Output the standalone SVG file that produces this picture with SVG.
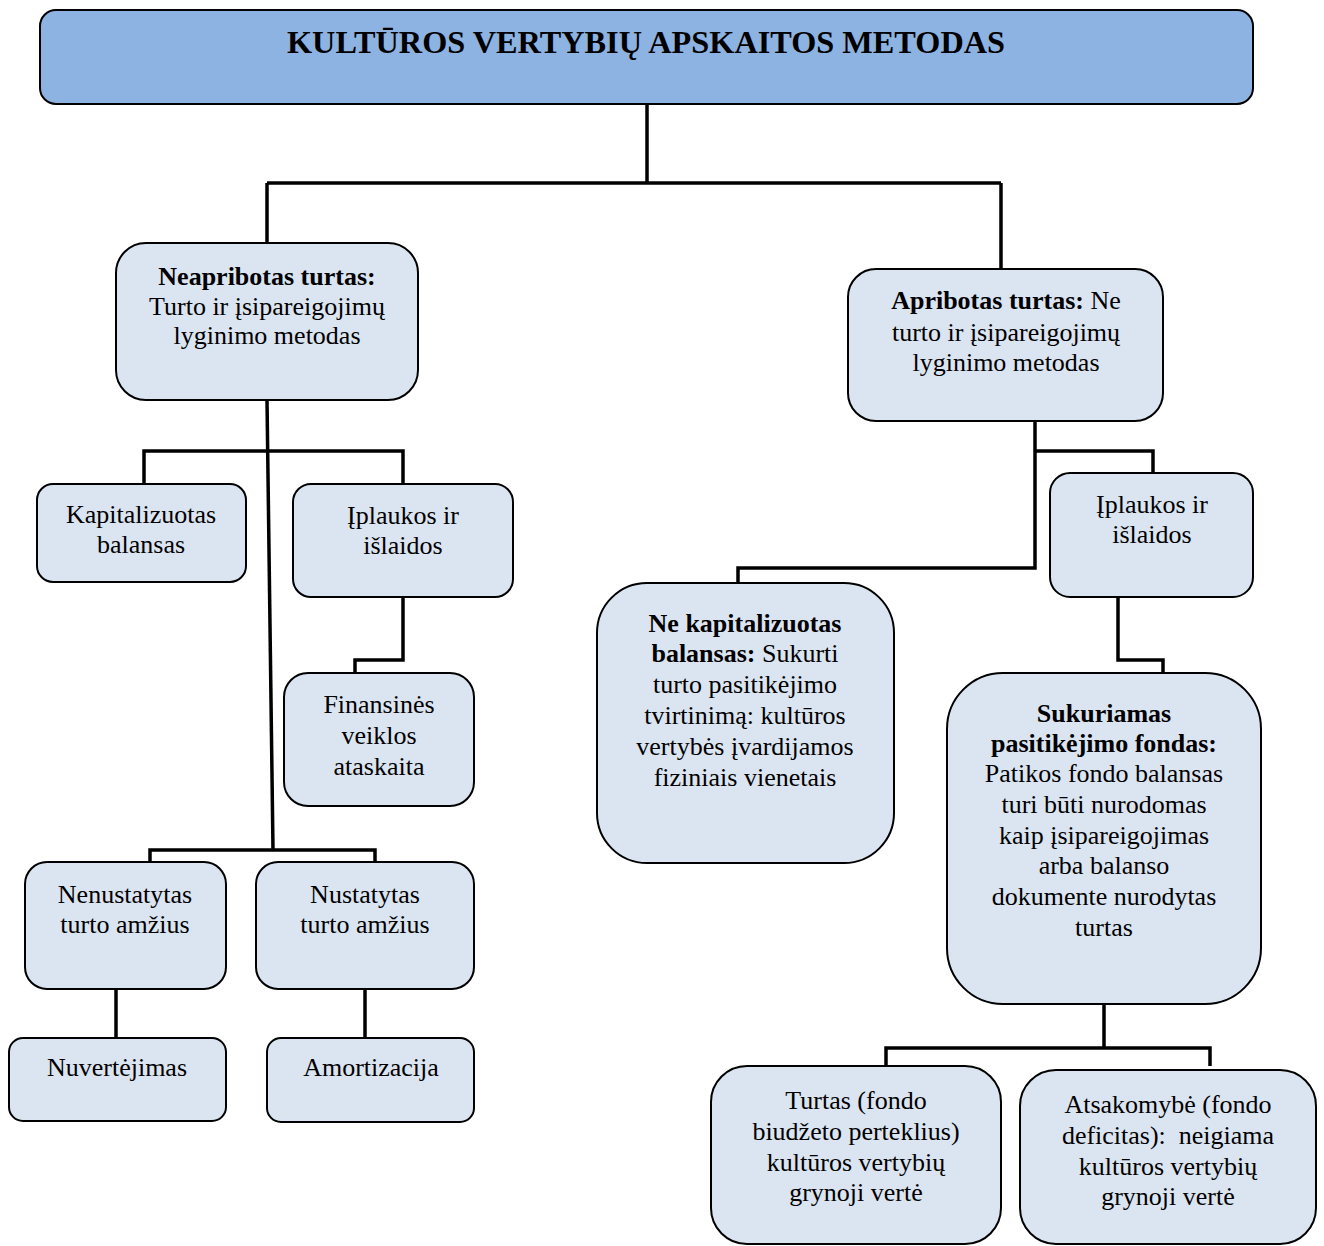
<svg xmlns="http://www.w3.org/2000/svg" width="1324" height="1246" viewBox="0 0 1324 1246">
  <style>
    .box { fill: #dbe5f1; stroke: #000; stroke-width: 2; }
    .head { fill: #8db3e2; stroke: #000; stroke-width: 2; }
    .t { font-family: "Liberation Serif", "Times New Roman", serif; font-size: 26px; fill: #000; text-anchor: middle; }
    .b { font-weight: bold; }
    .title { font-family: "Liberation Serif", "Times New Roman", serif; font-size: 31px; font-weight: bold; fill: #000; text-anchor: middle; }
    .conn { fill: none; stroke: #000; stroke-width: 3.5; stroke-linejoin: miter; }
  </style>
  <rect width="1324" height="1246" fill="#fff"/>

  <!-- connector lines -->
  <g id="connectors" class="conn">
    <path d="M647,104 V183 M267,183 H1001 M267,183 V243 M1001,183 V269"/>
    <path d="M144,484 V451 H403 V484"/>
    <path d="M267,400 L273,850"/>
    <path d="M403,597 V660 H355 V673"/>
    <path d="M150,862 V850 H375 V862"/>
    <path d="M116,989 V1038 M365,989 V1038"/>
    <path d="M1035,421 V568 H738 V583 M1035,451 H1153 V473"/>
    <path d="M1118,597 V660 H1163 V673"/>
    <path d="M1104,1004 V1048 M886,1066 V1048 H1210 V1066"/>
  </g>

  <g id="title">
    <rect class="head" x="40" y="10" width="1213" height="94" rx="16"/>
    <text class="title" x="646" y="53" textLength="718" lengthAdjust="spacingAndGlyphs">KULTŪROS VERTYBIŲ APSKAITOS METODAS</text>
  </g>

  <g id="neapribotas">
    <rect class="box" x="116" y="243" width="302" height="157" rx="30"/>
    <text class="t" x="267" y="285"><tspan class="b">Neapribotas turtas:</tspan></text>
    <text class="t" x="267" y="315">Turto ir įsipareigojimų</text>
    <text class="t" x="267" y="344">lyginimo metodas</text>
  </g>

  <g id="apribotas">
    <rect class="box" x="848" y="269" width="315" height="152" rx="28"/>
    <text class="t" x="1006" y="309"><tspan class="b">Apribotas turtas:</tspan> Ne</text>
    <text class="t" x="1006" y="341">turto ir įsipareigojimų</text>
    <text class="t" x="1006" y="371">lyginimo metodas</text>
  </g>

  <g id="kapitalizuotas">
    <rect class="box" x="37" y="484" width="209" height="98" rx="16"/>
    <text class="t" x="141" y="523">Kapitalizuotas</text>
    <text class="t" x="141" y="553">balansas</text>
  </g>

  <g id="iplaukos-kaire">
    <rect class="box" x="293" y="484" width="220" height="113" rx="18"/>
    <text class="t" x="403" y="524">Įplaukos ir</text>
    <text class="t" x="403" y="554">išlaidos</text>
  </g>

  <g id="finansines">
    <rect class="box" x="284" y="673" width="190" height="133" rx="24"/>
    <text class="t" x="379" y="713">Finansinės</text>
    <text class="t" x="379" y="744">veiklos</text>
    <text class="t" x="379" y="775">ataskaita</text>
  </g>

  <g id="nenustatytas">
    <rect class="box" x="25" y="862" width="201" height="127" rx="22"/>
    <text class="t" x="125" y="903">Nenustatytas</text>
    <text class="t" x="125" y="933">turto amžius</text>
  </g>

  <g id="nustatytas">
    <rect class="box" x="256" y="862" width="218" height="127" rx="22"/>
    <text class="t" x="365" y="903">Nustatytas</text>
    <text class="t" x="365" y="933">turto amžius</text>
  </g>

  <g id="nuvertejimas">
    <rect class="box" x="9" y="1038" width="217" height="83" rx="14"/>
    <text class="t" x="117" y="1076">Nuvertėjimas</text>
  </g>

  <g id="amortizacija">
    <rect class="box" x="267" y="1038" width="207" height="84" rx="14"/>
    <text class="t" x="371" y="1076">Amortizacija</text>
  </g>

  <g id="iplaukos-desine">
    <rect class="box" x="1050" y="473" width="203" height="124" rx="20"/>
    <text class="t" x="1152" y="513">Įplaukos ir</text>
    <text class="t" x="1152" y="543">išlaidos</text>
  </g>

  <g id="ne-kapitalizuotas">
    <rect class="box" x="597" y="583" width="297" height="280" rx="50"/>
    <text class="t" x="745" y="632"><tspan class="b">Ne kapitalizuotas</tspan></text>
    <text class="t" x="745" y="662"><tspan class="b">balansas:</tspan> Sukurti</text>
    <text class="t" x="745" y="693">turto pasitikėjimo</text>
    <text class="t" x="745" y="724">tvirtinimą: kultūros</text>
    <text class="t" x="745" y="755">vertybės įvardijamos</text>
    <text class="t" x="745" y="786">fiziniais vienetais</text>
  </g>

  <g id="sukuriamas">
    <rect class="box" x="947" y="673" width="314" height="331" rx="56"/>
    <text class="t b" x="1104" y="722">Sukuriamas</text>
    <text class="t b" x="1104" y="752">pasitikėjimo fondas:</text>
    <text class="t" x="1104" y="782">Patikos fondo balansas</text>
    <text class="t" x="1104" y="813">turi būti nurodomas</text>
    <text class="t" x="1104" y="844">kaip įsipareigojimas</text>
    <text class="t" x="1104" y="874">arba balanso</text>
    <text class="t" x="1104" y="905">dokumente nurodytas</text>
    <text class="t" x="1104" y="936">turtas</text>
  </g>

  <g id="turtas">
    <rect class="box" x="711" y="1066" width="290" height="178" rx="36"/>
    <text class="t" x="856" y="1109">Turtas (fondo</text>
    <text class="t" x="856" y="1140">biudžeto perteklius)</text>
    <text class="t" x="856" y="1171">kultūros vertybių</text>
    <text class="t" x="856" y="1201">grynoji vertė</text>
  </g>

  <g id="atsakomybe">
    <rect class="box" x="1020" y="1070" width="296" height="174" rx="36"/>
    <text class="t" x="1168" y="1113">Atsakomybė (fondo</text>
    <text class="t" x="1168" y="1144" xml:space="preserve">deficitas):  neigiama</text>
    <text class="t" x="1168" y="1175">kultūros vertybių</text>
    <text class="t" x="1168" y="1205">grynoji vertė</text>
  </g>
</svg>
